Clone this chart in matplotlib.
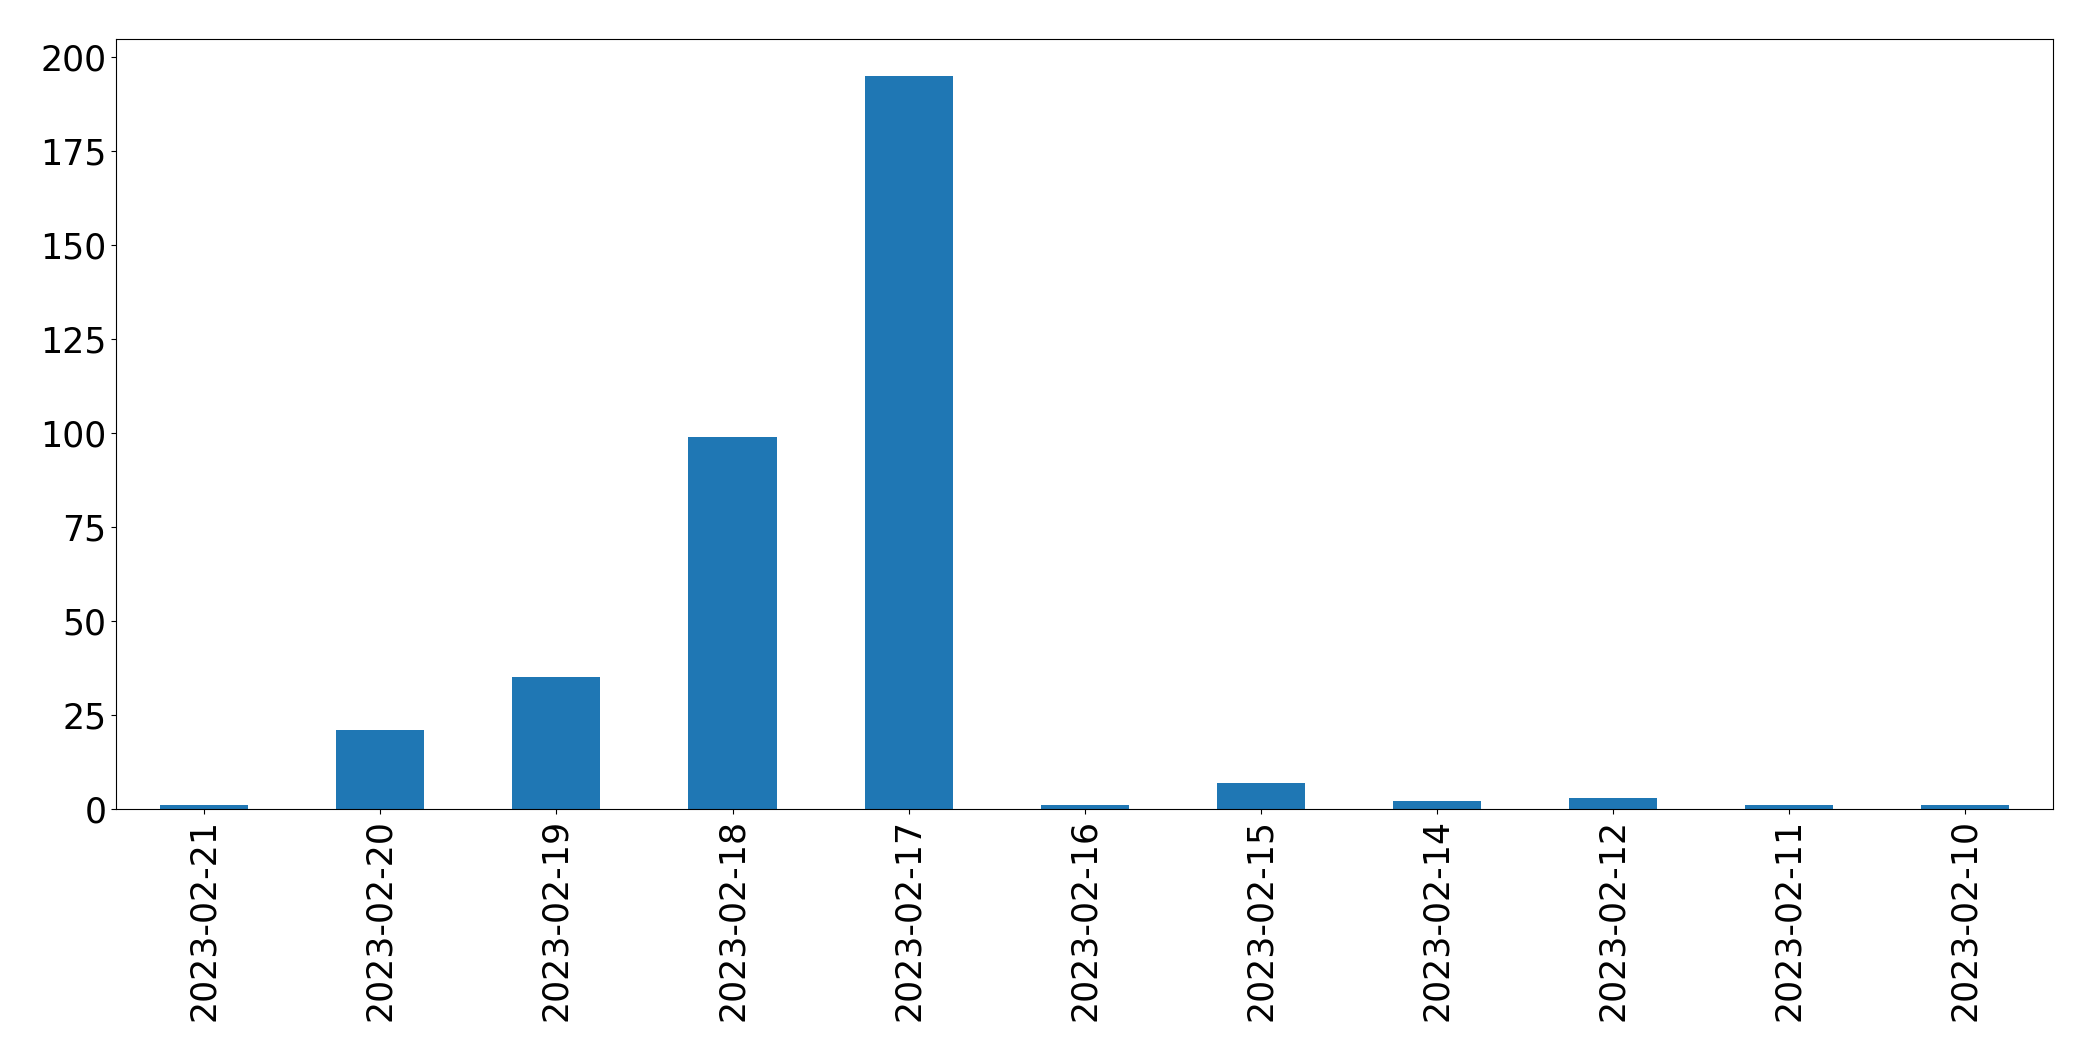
import pandas as pd
import matplotlib
matplotlib.use("Agg")
from matplotlib import pyplot as plt

dates = ['2023-02-21', '2023-02-20', '2023-02-19', '2023-02-18', '2023-02-17', '2023-02-16',
         '2023-02-15', '2023-02-14', '2023-02-12', '2023-02-11', '2023-02-10']
counts = [1, 21, 35, 99, 195, 1, 7, 2, 3, 1, 1]

s = pd.Series(counts, index=dates)

fig = plt.figure(figsize=(20.93, 10.61), dpi=100)
ax = fig.add_subplot(111)
s.plot(kind='bar', ax=ax, color='#1f77b4')
ax.tick_params(axis='both', labelsize=25)
fig.subplots_adjust(left=0.0555, right=0.981, top=0.963, bottom=0.2375)
fig.savefig('out.png', dpi=100)
